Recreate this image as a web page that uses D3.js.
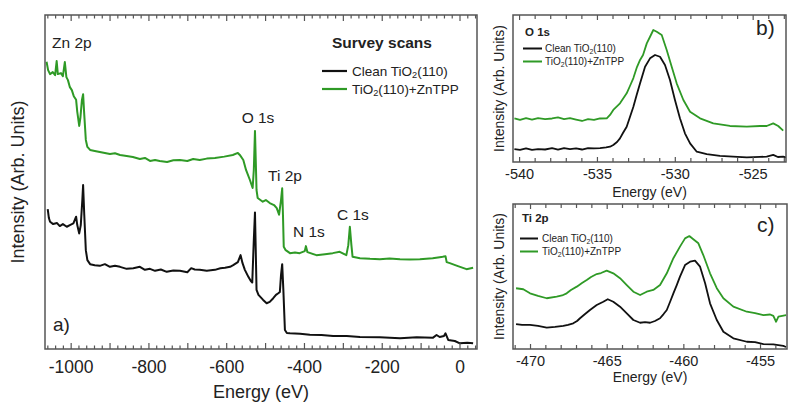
<!DOCTYPE html>
<html><head><meta charset="utf-8">
<script src="https://cdn.jsdelivr.net/npm/d3@7"></script>
<style>
html,body{margin:0;padding:0;background:#fff;}
svg text{font-family:"Liberation Sans",Arial,sans-serif;fill:#222;}
</style></head>
<body><svg id="c" width="800" height="412"></svg>
<script>
// ---------- DATA ----------
// Survey scan (binding energy shown as negative eV), arbitrary intensity units
const surveyClean = [[-1059,41.9],[-1056,39.2],[-1053,38.1],[-1045,37.4],[-1035,37.7],[-1028,36.8],[-1020,37.4],[-1010,36.6],[-1002,37.1],[-993,37.6],[-986,39.6],[-983,37.1],[-978,34.6],[-974,37.1],[-970,44.6],[-968,49.1],[-965,40.1],[-961,29.6],[-957,26.6],[-950,25.4],[-938,25.1],[-925,24.9],[-912,25.4],[-899,24.6],[-886,24.9],[-873,24.6],[-856,24.0],[-839,24.2],[-822,24.6],[-809,23.7],[-796,24.0],[-783,23.4],[-768,23.8],[-753,23.1],[-736,23.5],[-719,23.4],[-700,23.0],[-690,24.2],[-681,23.8],[-668,23.7],[-650,23.4],[-629,23.7],[-615,24.2],[-603,24.3],[-590,24.6],[-582,25.1],[-570,26.0],[-563,28.1],[-558,25.7],[-552,23.7],[-543,21.6],[-537,20.4],[-533,19.9],[-529,32.6],[-526,40.9],[-524,29.6],[-522,17.7],[-517,16.2],[-505,14.7],[-496,13.7],[-488,14.1],[-479,15.2],[-472,16.2],[-466,16.7],[-462,17.1],[-459,22.2],[-456,25.4],[-453,17.7],[-449,5.7],[-444,4.8],[-436,4.7],[-410,4.6],[-385,4.3],[-355,4.2],[-325,3.9],[-290,3.9],[-256,3.6],[-205,3.5],[-153,3.2],[-110,3.5],[-68,3.4],[-59,4.2],[-51,3.6],[-40,3.9],[-36,4.7],[-29,2.7],[-12,2.4],[1,1.7],[20,1.9],[35,1.7]];
const surveyZnTPP = [[-1062,86.0],[-1058,83.5],[-1053,82.3],[-1046,82.9],[-1040,82.0],[-1036,86.2],[-1033,82.3],[-1025,82.6],[-1020,81.7],[-1015,85.9],[-1011,81.4],[-1007,80.5],[-1002,78.4],[-997,77.5],[-992,75.7],[-986,74.6],[-983,71.0],[-978,66.8],[-975,69.2],[-971,74.6],[-968,76.3],[-965,70.1],[-961,62.6],[-957,60.5],[-950,59.6],[-938,59.3],[-925,59.0],[-912,58.7],[-899,58.4],[-886,58.6],[-873,58.1],[-856,57.8],[-840,57.5],[-822,56.9],[-809,57.2],[-796,56.3],[-783,56.6],[-771,56.3],[-752,56.0],[-736,56.5],[-719,56.6],[-700,56.3],[-685,56.9],[-668,56.6],[-650,57.0],[-629,57.2],[-605,57.6],[-583,58.1],[-570,58.7],[-565,58.1],[-556,56.6],[-549,53.6],[-539,50.6],[-532,48.2],[-529,53.6],[-526,65.3],[-524,56.6],[-522,47.6],[-519,45.2],[-506,44.1],[-498,44.6],[-488,43.7],[-477,43.1],[-470,42.2],[-464,40.2],[-459,44.6],[-456,48.1],[-454,40.1],[-452,30.6],[-447,29.6],[-436,28.7],[-423,28.9],[-411,28.7],[-398,29.3],[-395,30.8],[-391,29.0],[-368,28.1],[-346,28.4],[-326,28.7],[-308,29.1],[-291,28.1],[-286,31.1],[-282,36.6],[-278,31.1],[-275,27.6],[-256,27.2],[-230,27.0],[-205,26.9],[-180,27.1],[-153,26.9],[-128,26.8],[-102,26.9],[-69,27.2],[-51,27.5],[-43,27.6],[-36,27.8],[-33,26.0],[-25,25.7],[-4,24.8],[18,23.9],[35,24.3]];

// O 1s region
const o1sClean = [[-540.30,8.8],[-539.94,8.2],[-539.55,9.2],[-539.17,8.2],[-538.78,8.8],[-538.33,8.5],[-537.88,9.5],[-537.50,8.5],[-537.11,9.5],[-536.73,8.8],[-536.34,9.2],[-535.96,8.5],[-535.57,9.5],[-535.19,9.2],[-534.80,9.5],[-534.41,9.9],[-534.16,10.4],[-533.95,11.6],[-533.71,13.6],[-533.52,16.1],[-533.33,19.7],[-533.09,24.0],[-532.88,30.6],[-532.66,37.6],[-532.45,45.6],[-532.23,53.5],[-531.91,64.8],[-531.59,70.5],[-531.27,72.8],[-530.95,71.6],[-530.63,66.0],[-530.31,55.8],[-529.99,42.2],[-529.67,29.7],[-529.35,19.5],[-529.02,12.7],[-528.59,7.0],[-527.95,5.4],[-527.10,4.1],[-526.26,3.7],[-525.38,3.2],[-524.53,3.5],[-524.10,3.6],[-523.68,4.8],[-523.38,3.4],[-523.04,3.6],[-522.86,3.1]];
const o1sZnTPP = [[-540.30,29.7],[-539.94,28.6],[-539.55,29.9],[-539.17,28.9],[-538.78,29.9],[-538.33,29.2],[-537.88,29.6],[-537.50,30.3],[-537.11,29.2],[-536.73,29.9],[-536.34,28.9],[-535.96,27.9],[-535.57,29.2],[-535.19,28.6],[-534.80,29.6],[-534.37,29.7],[-534.16,32.0],[-533.95,35.4],[-533.52,39.9],[-533.09,46.7],[-532.88,51.7],[-532.66,57.1],[-532.43,64.6],[-532.23,69.4],[-532.04,72.8],[-531.80,80.7],[-531.59,85.2],[-531.38,89.8],[-531.16,88.6],[-530.84,86.4],[-530.52,76.2],[-530.20,64.8],[-529.88,53.5],[-529.45,42.2],[-529.02,34.2],[-528.38,29.7],[-527.53,26.3],[-526.46,24.5],[-525.38,24.0],[-524.53,24.5],[-524.10,24.5],[-523.68,26.3],[-523.36,24.5],[-523.04,21.3]];

// Ti 2p region
const ti2pClean = [[-470.91,17.2],[-470.52,16.6],[-470.00,16.6],[-469.48,15.9],[-468.91,14.7],[-468.37,15.2],[-467.83,15.9],[-467.52,16.6],[-467.18,17.7],[-466.93,19.3],[-466.74,21.2],[-466.41,24.1],[-466.09,26.9],[-465.65,30.3],[-465.22,32.6],[-464.93,34.3],[-464.57,32.6],[-464.13,29.2],[-463.69,24.6],[-463.26,20.0],[-462.82,18.1],[-462.50,18.6],[-462.17,18.1],[-461.85,19.3],[-461.52,21.2],[-461.29,24.1],[-461.08,26.9],[-460.87,32.4],[-460.65,38.4],[-460.43,44.1],[-460.22,49.9],[-459.89,57.9],[-459.56,60.2],[-459.24,60.9],[-458.91,56.8],[-458.58,45.3],[-458.26,31.5],[-457.82,20.0],[-457.39,11.9],[-456.74,7.4],[-455.86,5.0],[-455.32,4.8],[-454.78,3.4],[-454.13,3.2],[-453.48,2.1],[-453.30,1.4]];
const ti2pZnTPP = [[-470.91,41.9],[-470.44,41.2],[-470.00,38.4],[-469.48,36.6],[-468.91,35.0],[-468.26,36.1],[-467.91,36.9],[-467.61,38.4],[-467.33,40.7],[-466.95,43.0],[-466.61,45.5],[-466.30,47.6],[-466.02,49.7],[-465.65,51.7],[-465.37,52.4],[-465.00,54.0],[-464.57,52.2],[-464.13,48.8],[-463.69,44.1],[-463.26,39.5],[-462.82,37.2],[-462.39,39.5],[-461.96,40.7],[-461.52,44.1],[-461.08,52.2],[-460.65,62.6],[-460.22,70.6],[-459.89,76.3],[-459.61,77.9],[-459.35,75.7],[-459.02,72.9],[-458.70,64.8],[-458.26,52.2],[-457.82,41.9],[-457.39,35.0],[-456.74,29.2],[-455.86,25.7],[-455.32,24.8],[-454.78,23.4],[-454.34,23.8],[-454.13,22.8],[-453.95,18.8],[-453.80,22.4],[-453.30,23.4]];

const surveyLabelTicks = [-1000,-800,-600,-400,-200,0];
const o1sLabelTicks = [-540,-535,-530,-525];
const ti2pLabelTicks = [-470,-465,-460,-455];
const seriesNames = ["Clean TiO|2|(110)", "TiO|2|(110)+ZnTPP"];
const peakLabels = ["Zn 2p","O 1s","Ti 2p","N 1s","C 1s"];

// ---------- DRAW ----------
const BLACK = "#111", GREEN = "#2f9a26", FRAME = "#555";
const svg = d3.select("#c");

function panel(opt){
  const x = d3.scaleLinear().domain(opt.xd).range([opt.l, opt.r]);
  const y = d3.scaleLinear().domain([0,100]).range([opt.b, opt.t]);
  const g = svg.append("g");
  const id = "clip"+opt.name;
  svg.append("clipPath").attr("id",id).append("rect")
    .attr("x",opt.l).attr("y",opt.t).attr("width",opt.r-opt.l).attr("height",opt.b-opt.t);
  const line = d3.line().x(d=>x(d[0])).y(d=>y(d[1])).curve(d3.curveLinear);
  opt.series.forEach((s,i)=>{
    g.append("path").datum(s).attr("d",line).attr("fill","none")
      .attr("stroke", i===0?BLACK:GREEN).attr("stroke-width",opt.lw)
      .attr("stroke-linejoin","round").attr("clip-path",`url(#${id})`);
  });
  const lo = Math.ceil(opt.xd[0]/opt.minor)*opt.minor, hi = opt.xd[1];
  const minorVals = d3.range(lo, hi+1e-9, opt.minor).filter(v=>Math.abs(v/opt.major-Math.round(v/opt.major))>1e-6);
  const majorVals = d3.range(Math.ceil(opt.xd[0]/opt.major)*opt.major, hi+1e-9, opt.major);
  const fmt = v => opt.labels.some(l=>Math.abs(l-v)<1e-6) ? String(Math.round(v)) : "";
  const bMaj = g.append("g").attr("transform",`translate(0,${opt.b})`)
    .call(d3.axisBottom(x).tickValues(majorVals).tickSize(-opt.majLen).tickPadding(opt.pad).tickFormat(fmt));
  const bMin = g.append("g").attr("transform",`translate(0,${opt.b})`)
    .call(d3.axisBottom(x).tickValues(minorVals).tickSize(-opt.minLen).tickFormat(""));
  const tMaj = g.append("g").attr("transform",`translate(0,${opt.t})`)
    .call(d3.axisTop(x).tickValues(majorVals).tickSize(-opt.majLen).tickFormat(""));
  const tMin = g.append("g").attr("transform",`translate(0,${opt.t})`)
    .call(d3.axisTop(x).tickValues(minorVals).tickSize(-opt.minLen).tickFormat(""));
  [bMaj,bMin,tMaj,tMin].forEach(a=>{
    a.select(".domain").remove();
    a.selectAll("line").attr("stroke",FRAME).attr("stroke-width",1.2);
  });
  bMaj.selectAll("text").attr("fill","#222").style("font-size",opt.tickFs+"px")
    .style("font-family",'"Liberation Sans",Arial,sans-serif');
  g.append("rect").attr("x",opt.l).attr("y",opt.t).attr("width",opt.r-opt.l).attr("height",opt.b-opt.t)
    .attr("fill","none").attr("stroke",FRAME).attr("stroke-width",1.5);
  g.append("text").attr("x",(opt.l+opt.r)/2).attr("y",opt.xtY).attr("text-anchor","middle")
    .style("font-size",opt.titleFs+"px").text("Energy (eV)");
  g.append("text").attr("transform",`translate(${opt.ytX},${(opt.t+opt.b)/2}) rotate(-90)`)
    .attr("text-anchor","middle").style("font-size",opt.titleFs+"px").text("Intensity (Arb. Units)");
  return {x,y,g};
}

function subText(sel, str, fs){
  const parts = str.split("|");
  parts.forEach((p,i)=>{
    const t = sel.append("tspan").text(p);
    if(i===1){ t.attr("dy", fs*0.2).style("font-size",(fs*0.68)+"px"); }
    if(i===2){ t.attr("dy", -fs*0.2); }
  });
}

function legend(x0,x1,ys,tx,fs,lw){
  seriesNames.forEach((n,i)=>{
    svg.append("line").attr("x1",x0).attr("x2",x1).attr("y1",ys[i]).attr("y2",ys[i])
      .attr("stroke", i===0?BLACK:GREEN).attr("stroke-width",lw);
    const t = svg.append("text").attr("x",tx).attr("y",ys[i]+fs*0.35).style("font-size",fs+"px");
    subText(t,n,fs);
  });
}

// Main survey panel
panel({name:"a", xd:[-1066,45], l:45, r:477, t:15, b:349, series:[surveyClean,surveyZnTPP],
  lw:2, minor:20, major:100, labels:surveyLabelTicks, majLen:6, minLen:3.5, pad:12, tickFs:17.5,
  titleFs:18, xtY:398, ytX:24});
// O 1s panel
panel({name:"b", xd:[-540.39,-522.86], l:513, r:786, t:15, b:162, series:[o1sClean,o1sZnTPP],
  lw:1.8, minor:1, major:5, labels:o1sLabelTicks, majLen:5, minLen:4, pad:7, tickFs:14.5,
  titleFs:14, xtY:197, ytX:504});
// Ti 2p panel
panel({name:"c", xd:[-471.11,-453.24], l:513, r:787, t:204, b:349, series:[ti2pClean,ti2pZnTPP],
  lw:1.8, minor:1, major:5, labels:ti2pLabelTicks, majLen:5, minLen:4, pad:7, tickFs:14.5,
  titleFs:14, xtY:382, ytX:504});

const ann = [[peakLabels[0],52,48,"start"],[peakLabels[1],258,123,"middle"],[peakLabels[2],268,181,"start"],
  [peakLabels[3],293,237,"start"],[peakLabels[4],337,220,"start"]];
ann.forEach(a=>svg.append("text").attr("x",a[1]).attr("y",a[2]).attr("text-anchor",a[3])
  .style("font-size","15.5px").text(a[0]));
svg.append("text").attr("x",332).attr("y",48).style("font-size","15.5px").style("font-weight","bold").text("Survey scans");
legend(322,347,[71,89],352,13.5,2.2);
svg.append("text").attr("x",53).attr("y",331).style("font-size","19px").text("a)");

svg.append("text").attr("x",525).attr("y",36).style("font-size","11.5px").style("font-weight","bold").text("O 1s");
legend(523,542,[48.5,61.5],545,10,2);
svg.append("text").attr("x",756).attr("y",35).style("font-size","21px").text("b)");
svg.append("text").attr("x",522).attr("y",222).style("font-size","11.5px").style("font-weight","bold").text("Ti 2p");
legend(520,538,[238.5,251.5],542,10,2);
svg.append("text").attr("x",757).attr("y",232).style("font-size","21px").text("c)");
</script></body></html>
